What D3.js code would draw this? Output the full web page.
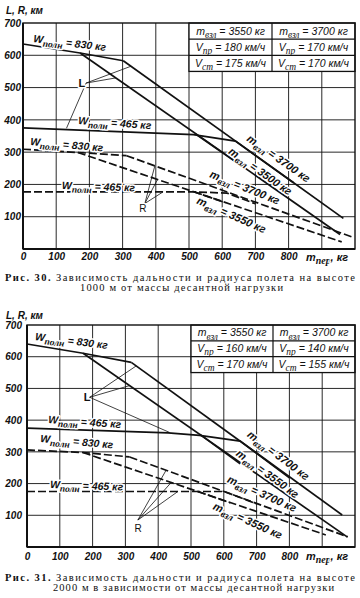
<!DOCTYPE html>
<html><head><meta charset="utf-8">
<script src="https://cdn.jsdelivr.net/npm/d3@7/dist/d3.min.js"></script>
<style>
body{margin:0;background:#fff}
.lbl{font-family:"Liberation Sans Narrow","Liberation Sans",Arial,sans-serif;font-style:italic;font-weight:bold;fill:#111;stroke:#fff;stroke-width:3px;paint-order:stroke;stroke-linejoin:round}
.sub{font-family:"Liberation Serif",serif;font-style:italic;font-weight:bold}
.tick text{font-family:"Liberation Sans",Arial,sans-serif;font-style:italic;font-weight:bold;font-size:10px;fill:#111}
.cap{font-family:"Liberation Serif",serif;font-size:10.5px;font-weight:normal;fill:#111}
</style>
</head><body>
<svg id="c" width="360" height="598"></svg>
<script>
// ---------- tick labels ----------
const xTicks = [0,100,200,300,400,500,600,700,800];
const yTicks = [100,200,300,400,500,600,700];
const xGrid = [100,200,300,400,500,600,700,800,900];
const yGrid = [100,200,300,400,500,600];

// ---------- Chart 1 (1000 m) : L = range (solid), R = radius (dashed) ----------
const c1L830  = [[0,635],[172,607],[302,583]];
const c1L3700 = [[302,583],[965,95]];
const c1L3500 = [[172,607],[955,45]];
const c1L465  = [[0,375],[513,354],[640,334],[815,205]];
const c1L465b = [[520,356],[650,263]];
const c1R830  = [[0,309],[165,299],[312,289]];
const c1R3700 = [[312,289],[992,37]];
const c1R3550 = [[165,299],[960,22]];
const c1R465  = [[0,177],[516,177],[615,173],[700,140]];
const c1R465b = [[516,177],[610,143]];
const c1Lpt = [190,514], c1Lends = [[131,374],[325,566],[280,530]];
const c1Rpt = [367,141], c1Rends = [[397,257],[405,215],[422,177]];
const c1Table = [["m","взл","3550 кг","3700 кг"],["V","пр","180 км/ч","170 км/ч"],["V","ст","175 км/ч","170 км/ч"]];
const c1Mass = ["3700","3500","3700","3550"];
const c1Cap = ["Рис. 30.", " Зависимость дальности и радиуса полета на высоте", "1000 м от массы десантной нагрузки"];

// ---------- Chart 2 (2000 m) ----------
const c2L830  = [[0,640],[171,611],[318,582]];
const c2L3700 = [[318,582],[961,101]];
const c2L3550 = [[171,611],[976,32]];
const c2L465  = [[0,375],[430,360],[526,352],[650,334],[800,218]];
const c2L465b = [[527,355],[650,262]];
const c2R830  = [[0,306],[170,298],[313,284]];
const c2R3700 = [[313,284],[978,32]];
const c2R3550 = [[170,298],[911,38]];
const c2R465  = [[0,175],[601,175],[700,136]];
const c2R465b = [[522,175],[620,139]];
const c2Lpt = [191,472], c2Lends = [[333,571],[313,509],[435,361]];
const c2Rpt = [338,85], c2Rends = [[424,242],[440,204],[460,175]];
const c2Table = [["m","взл","3550 кг","3700 кг"],["V","пр","160 км/ч","140 км/ч"],["V","ст","170 км/ч","155 км/ч"]];
const c2Mass = ["3700","3550","3700","3550"];
const c2Cap = ["Рис. 31.", " Зависимость дальности и радиуса полета на высоте", "2000 м в зависимости от массы десантной нагрузки"];

const fuelFull = "830", fuelPart = "465";

// ---------- layout ----------
const layouts = [
 {xr:[23,355], yr:[249,23], yT:[6,14], yPad:2, xPad:4, xT:[306,261], cap:[281,291], cap2:[80,203],
  fL830:[30,641,7], fL465:[166,387,4], fR830:[21,322,5], fR465:[117,186,2], L:[167,515], R:[350,128],
  m:[[672,337,35],[617,297,35],[560,223,22],[521,142,24]]},
 {xr:[27,355], yr:[547,325], yT:[6,319], yPad:5, xPad:6, xT:[306,560], cap:[581,591], cap2:[53,281],
  fL830:[24,653,7], fL465:[64,391,4], fR830:[40,331,5], fR465:[70,186,2], L:[173,473], R:[328,60],
  m:[[669,350,37],[635,290,36],[608,205,24],[565,120,24]]}
];
const charts = [
 {L:[c1L830,c1L3700,c1L3500,c1L465,c1L465b], R:[c1R830,c1R3700,c1R3550,c1R465,c1R465b],
  Lpt:c1Lpt, Lends:c1Lends, Rpt:c1Rpt, Rends:c1Rends, table:c1Table, mass:c1Mass, cap:c1Cap},
 {L:[c2L830,c2L3700,c2L3550,c2L465,c2L465b], R:[c2R830,c2R3700,c2R3550,c2R465,c2R465b],
  Lpt:c2Lpt, Lends:c2Lends, Rpt:c2Rpt, Rends:c2Rends, table:c2Table, mass:c2Mass, cap:c2Cap}
];

const svg = d3.select("#c");
const ink = "#111";

function label(g, px, py, rot, parts, size) {
  const t = g.append("text").attr("class","lbl")
    .attr("transform", `translate(${px},${py}) rotate(${rot})`).style("font-size", size+"px");
  let sh = false;
  parts.forEach(p => {
    const ts = t.append("tspan").text(p[0]);
    if (p[1]) { ts.attr("class","sub").attr("dy", size*0.3).style("font-size", (size*0.9)+"px"); sh = true; }
    else if (sh) { ts.attr("dy", -size*0.3); sh = false; }
  });
  return t;
}

charts.forEach((c, i) => {
  const lay = layouts[i];
  const x = d3.scaleLinear().domain([0,1000]).range(lay.xr);
  const y = d3.scaleLinear().domain([0,700]).range(lay.yr);
  const g = svg.append("g");

  // grid
  xGrid.forEach(v => {
    g.append("line").attr("x1",x(v)).attr("x2",x(v)).attr("y1",y(0)).attr("y2", y(v>500?550:700))
      .attr("stroke",ink).attr("stroke-width",0.9);
  });
  yGrid.forEach(v => {
    g.append("line").attr("x1",x(0)).attr("x2",x(1000)).attr("y1",y(v)).attr("y2",y(v))
      .attr("stroke",ink).attr("stroke-width",0.9);
  });
  // table
  g.append("rect").attr("x",x(500)).attr("y",y(700)).attr("width",x(1000)-x(500)).attr("height",y(550)-y(700))
    .attr("fill","#fff").attr("stroke",ink).attr("stroke-width",1.3);
  [650,600].forEach(v => g.append("line").attr("x1",x(500)).attr("x2",x(1000)).attr("y1",y(v)).attr("y2",y(v)).attr("stroke",ink).attr("stroke-width",1.2));
  g.append("line").attr("x1",x(750)).attr("x2",x(750)).attr("y1",y(700)).attr("y2",y(550)).attr("stroke",ink).attr("stroke-width",1.2);
  c.table.forEach((row, r) => {
    [row[2],row[3]].forEach((val, k) => {
      const t = label(g, x(k?875:625), y(675-50*r)+3.5, 0, [[row[0]],[row[1],1],[" = "+val]], 10.5);
      t.attr("text-anchor","middle").style("stroke","none").style("font-weight","normal");
      t.selectAll(".sub").style("font-weight","normal");
    });
  });

  // frame
  g.append("rect").attr("x",x(0)).attr("y",y(700)).attr("width",x(1000)-x(0)).attr("height",y(0)-y(700))
    .attr("fill","none").attr("stroke",ink).attr("stroke-width",1.4);
  g.append("line").attr("x1",x(0)).attr("x2",x(0)).attr("y1",y(0)).attr("y2",y(700)).attr("stroke",ink).attr("stroke-width",2);
  g.append("line").attr("x1",x(0)).attr("x2",x(1000)).attr("y1",y(0)).attr("y2",y(0)).attr("stroke",ink).attr("stroke-width",2);

  // leaders
  const lead = (pt, ends) => ends.forEach(e => g.append("line")
      .attr("x1",x(pt[0])).attr("y1",y(pt[1])).attr("x2",x(e[0])).attr("y2",y(e[1]))
      .attr("stroke",ink).attr("stroke-width",0.8));
  lead(c.Lpt, c.Lends); lead(c.Rpt, c.Rends);

  // series
  const line = d3.line().x(d => x(d[0])).y(d => y(d[1]));
  c.L.forEach(s => g.append("path").attr("d",line(s)).attr("fill","none").attr("stroke",ink).attr("stroke-width",1.7));
  c.R.forEach(s => g.append("path").attr("d",line(s)).attr("fill","none").attr("stroke",ink).attr("stroke-width",1.7).attr("stroke-dasharray","8,3"));

  // labels
  const fl = (a, v) => label(g, x(a[0]), y(a[1]), a[2], [["W"],["полн",1],[" = "+v+" кг"]], 10.5);
  fl(lay.fL830, fuelFull); fl(lay.fL465, fuelPart); fl(lay.fR830, fuelFull); fl(lay.fR465, fuelPart);
  lay.m.forEach((a, k) => label(g, x(a[0]), y(a[1]), a[2], [["m"],["взл",1],[" = "+c.mass[k]+" кг"]], 11));
  g.append("text").attr("class","lbl").attr("x",x(lay.L[0])).attr("y",y(lay.L[1])+4).text("L")
    .style("font-size","11px").style("font-style","normal").style("font-weight","bold");
  g.append("text").attr("class","lbl").attr("x",x(lay.R[0])).attr("y",y(lay.R[1])+4).text("R")
    .style("font-size","10px").style("font-style","normal").style("font-weight","normal");

  // axes
  const ya = g.append("g").attr("transform",`translate(${x(0)},0)`)
    .call(d3.axisLeft(y).tickValues(yTicks).tickSize(0).tickPadding(lay.yPad));
  ya.select(".domain").remove();
  const xa = g.append("g").attr("transform",`translate(0,${y(0)})`)
    .call(d3.axisBottom(x).tickValues(xTicks).tickSize(0).tickPadding(lay.xPad));
  xa.select(".domain").remove();
  g.append("text").attr("x",lay.yT[0]).attr("y",lay.yT[1]).text("L, R, км")
    .style("font-family","Liberation Sans, Arial, sans-serif").style("font-style","italic").style("font-weight","bold").style("font-size","10px").attr("fill",ink);
  label(g, lay.xT[0], lay.xT[1], 0, [["m"],["пер",1],[", кг"]], 11);

  // caption
  const t1 = g.append("text").attr("class","cap").attr("x",5).attr("y",lay.cap[0])
    .attr("textLength",350).attr("lengthAdjust","spacing");
  t1.append("tspan").text(c.cap[0]).style("font-weight","bold");
  t1.append("tspan").text(c.cap[1]);
  g.append("text").attr("class","cap").attr("x",lay.cap2[0]).attr("y",lay.cap[1])
    .attr("textLength",lay.cap2[1]).attr("lengthAdjust","spacing").text(c.cap[2]);
});
</script>
</body></html>
